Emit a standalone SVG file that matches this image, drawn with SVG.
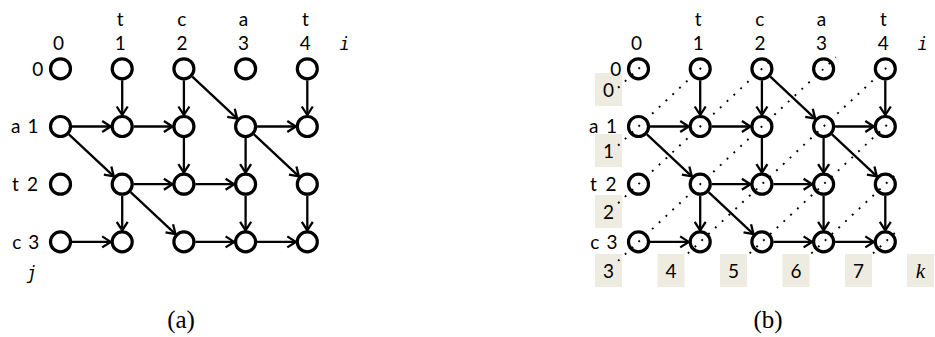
<svg xmlns="http://www.w3.org/2000/svg" width="935" height="337" viewBox="0 0 935 337">
<style>
.n{fill:none;stroke:#000;stroke-width:3.2}
.e{fill:none;stroke:#000;stroke-width:2.3;marker-end:url(#ah)}
.d{fill:none;stroke:#000;stroke-width:1.9;stroke-dasharray:1.9 7.4}
.t{font-family:Lato,"Liberation Sans",sans-serif;font-size:19px;fill:#000;text-anchor:middle}
.v{font-family:"DejaVu Sans Mono","Liberation Mono",monospace;font-style:italic;font-size:17px;fill:#000;text-anchor:middle}
.kk{font-family:"Liberation Serif",serif;font-style:italic;font-size:21px;fill:#000;text-anchor:middle}
.cap{font-family:"Liberation Serif",serif;font-size:25px;fill:#000;text-anchor:middle}
.bx{fill:#eeece1}
</style>
<defs>
<marker id="ah" viewBox="-11 -7 14 14" refX="0" refY="0" markerWidth="14" markerHeight="14" markerUnits="userSpaceOnUse" orient="auto">
<path d="M-8.5,-5.5 L0,0 L-8.5,5.5" fill="none" stroke="#000" stroke-width="2.3"/>
</marker>
</defs>

<!-- Graph (a) labels -->
<g id="labels-a">
<text class="t" x="120.2" y="26">t</text>
<text class="t" x="181.9" y="26">c</text>
<text class="t" x="243.6" y="26">a</text>
<text class="t" x="305.3" y="26">t</text>
<text class="t" x="58.5" y="50">0</text>
<text class="t" x="120.2" y="50">1</text>
<text class="t" x="181.9" y="50">2</text>
<text class="t" x="243.6" y="50">3</text>
<text class="t" x="305.3" y="50">4</text>
<text class="v" x="344.5" y="50">i</text>
<text class="t" x="37.8" y="75.5">0</text>
<text class="t" x="15.7" y="133">a</text>
<text class="t" x="33" y="133">1</text>
<text class="t" x="15.5" y="190.7">t</text>
<text class="t" x="32.5" y="190.7">2</text>
<text class="t" x="16.7" y="248.5">c</text>
<text class="t" x="33.8" y="248.5">3</text>
<text class="v" x="31.7" y="279">j</text>
<text class="cap" x="181" y="328">(a)</text>
</g>

<!-- Graph (a) nodes -->
<g id="a-0-0"><circle class="n" cx="60.5" cy="68.8" r="10"/></g>
<g id="a-1-0"><circle class="n" cx="122.2" cy="68.8" r="10"/></g>
<g id="a-2-0"><circle class="n" cx="183.9" cy="68.8" r="10"/></g>
<g id="a-3-0"><circle class="n" cx="245.6" cy="68.8" r="10"/></g>
<g id="a-4-0"><circle class="n" cx="307.3" cy="68.8" r="10"/></g>
<g id="a-0-1"><circle class="n" cx="60.5" cy="126.5" r="10"/></g>
<g id="a-1-1"><circle class="n" cx="122.2" cy="126.5" r="10"/></g>
<g id="a-2-1"><circle class="n" cx="183.9" cy="126.5" r="10"/></g>
<g id="a-3-1"><circle class="n" cx="245.6" cy="126.5" r="10"/></g>
<g id="a-4-1"><circle class="n" cx="307.3" cy="126.5" r="10"/></g>
<g id="a-0-2"><circle class="n" cx="60.5" cy="184.2" r="10"/></g>
<g id="a-1-2"><circle class="n" cx="122.2" cy="184.2" r="10"/></g>
<g id="a-2-2"><circle class="n" cx="183.9" cy="184.2" r="10"/></g>
<g id="a-3-2"><circle class="n" cx="245.6" cy="184.2" r="10"/></g>
<g id="a-4-2"><circle class="n" cx="307.3" cy="184.2" r="10"/></g>
<g id="a-0-3"><circle class="n" cx="60.5" cy="241.9" r="10"/></g>
<g id="a-1-3"><circle class="n" cx="122.2" cy="241.9" r="10"/></g>
<g id="a-2-3"><circle class="n" cx="183.9" cy="241.9" r="10"/></g>
<g id="a-3-3"><circle class="n" cx="245.6" cy="241.9" r="10"/></g>
<g id="a-4-3"><circle class="n" cx="307.3" cy="241.9" r="10"/></g>

<!-- Graph (a) connectors -->
<g id="edges-a">
<path class="e" d="M122.2,80.3 V115"/>
<path class="e" d="M183.9,80.3 V115"/>
<path class="e" d="M192.3,76.65 L237.2,118.65"/>
<path class="e" d="M307.3,80.3 V115"/>
<path class="e" d="M72,126.5 H110.7"/>
<path class="e" d="M133.7,126.5 H172.4"/>
<path class="e" d="M68.9,134.35 L113.8,176.35"/>
<path class="e" d="M183.9,138 V172.7"/>
<path class="e" d="M257.1,126.5 H295.8"/>
<path class="e" d="M245.6,138 V172.7"/>
<path class="e" d="M254,134.35 L298.9,176.35"/>
<path class="e" d="M133.7,184.2 H172.4"/>
<path class="e" d="M195.4,184.2 H234.1"/>
<path class="e" d="M122.2,195.7 V230.4"/>
<path class="e" d="M130.6,192.05 L175.5,234.05"/>
<path class="e" d="M245.6,195.7 V230.4"/>
<path class="e" d="M307.3,195.7 V230.4"/>
<path class="e" d="M72,241.9 H110.7"/>
<path class="e" d="M195.4,241.9 H234.1"/>
<path class="e" d="M257.1,241.9 H295.8"/>
</g>

<!-- Graph (b) k boxes -->
<g id="k-labels">
<rect class="bx" x="595" y="73" width="27" height="33"/>
<rect class="bx" x="595" y="134" width="27" height="33"/>
<rect class="bx" x="595" y="195" width="27" height="33"/>
<rect class="bx" x="595" y="254" width="27" height="33"/>
<rect class="bx" x="657.5" y="254" width="27" height="33"/>
<rect class="bx" x="720" y="254" width="27" height="33"/>
<rect class="bx" x="782.5" y="254" width="27" height="33"/>
<rect class="bx" x="845" y="254" width="27" height="33"/>
<rect class="bx" x="907" y="254" width="27" height="33"/>
<text class="t" x="608.5" y="97">0</text>
<text class="t" x="608.5" y="158">1</text>
<text class="t" x="608.5" y="219">2</text>
<text class="t" x="608.5" y="278">3</text>
<text class="t" x="671" y="278">4</text>
<text class="t" x="733.5" y="278">5</text>
<text class="t" x="796" y="278">6</text>
<text class="t" x="858.5" y="278">7</text>
<text class="kk" x="920.5" y="278">k</text>
</g>

<!-- Graph (b) labels -->
<g id="labels-b">
<text class="t" x="698.2" y="26">t</text>
<text class="t" x="759.9" y="26">c</text>
<text class="t" x="821.6" y="26">a</text>
<text class="t" x="883.3" y="26">t</text>
<text class="t" x="636.5" y="50">0</text>
<text class="t" x="698.2" y="50">1</text>
<text class="t" x="759.9" y="50">2</text>
<text class="t" x="821.6" y="50">3</text>
<text class="t" x="883.3" y="50">4</text>
<text class="v" x="922.5" y="50">i</text>
<text class="t" x="615.8" y="75.5">0</text>
<text class="t" x="593.7" y="133">a</text>
<text class="t" x="611.5" y="133">1</text>
<text class="t" x="593.5" y="190.7">t</text>
<text class="t" x="611" y="190.7">2</text>
<text class="t" x="594.7" y="248.5">c</text>
<text class="t" x="612" y="248.5">3</text>
<text class="cap" x="768" y="328">(b)</text>
</g>

<!-- Graph (b) nodes -->
<g id="b-0-0"><circle class="n" cx="638.5" cy="68.8" r="10"/></g>
<g id="b-1-0"><circle class="n" cx="700.2" cy="68.8" r="10"/></g>
<g id="b-2-0"><circle class="n" cx="761.9" cy="68.8" r="10"/></g>
<g id="b-3-0"><circle class="n" cx="823.6" cy="68.8" r="10"/></g>
<g id="b-4-0"><circle class="n" cx="885.3" cy="68.8" r="10"/></g>
<g id="b-0-1"><circle class="n" cx="638.5" cy="126.5" r="10"/></g>
<g id="b-1-1"><circle class="n" cx="700.2" cy="126.5" r="10"/></g>
<g id="b-2-1"><circle class="n" cx="761.9" cy="126.5" r="10"/></g>
<g id="b-3-1"><circle class="n" cx="823.6" cy="126.5" r="10"/></g>
<g id="b-4-1"><circle class="n" cx="885.3" cy="126.5" r="10"/></g>
<g id="b-0-2"><circle class="n" cx="638.5" cy="184.2" r="10"/></g>
<g id="b-1-2"><circle class="n" cx="700.2" cy="184.2" r="10"/></g>
<g id="b-2-2"><circle class="n" cx="761.9" cy="184.2" r="10"/></g>
<g id="b-3-2"><circle class="n" cx="823.6" cy="184.2" r="10"/></g>
<g id="b-4-2"><circle class="n" cx="885.3" cy="184.2" r="10"/></g>
<g id="b-0-3"><circle class="n" cx="638.5" cy="241.9" r="10"/></g>
<g id="b-1-3"><circle class="n" cx="700.2" cy="241.9" r="10"/></g>
<g id="b-2-3"><circle class="n" cx="761.9" cy="241.9" r="10"/></g>
<g id="b-3-3"><circle class="n" cx="823.6" cy="241.9" r="10"/></g>
<g id="b-4-3"><circle class="n" cx="885.3" cy="241.9" r="10"/></g>

<!-- Graph (b) connectors -->
<g id="edges-b">
<path class="e" d="M700.2,80.3 V115"/>
<path class="e" d="M761.9,80.3 V115"/>
<path class="e" d="M770.3,76.65 L815.2,118.65"/>
<path class="e" d="M885.3,80.3 V115"/>
<path class="e" d="M650,126.5 H688.7"/>
<path class="e" d="M711.7,126.5 H750.4"/>
<path class="e" d="M646.9,134.35 L691.8,176.35"/>
<path class="e" d="M761.9,138 V172.7"/>
<path class="e" d="M835.1,126.5 H873.8"/>
<path class="e" d="M823.6,138 V172.7"/>
<path class="e" d="M832,134.35 L876.9,176.35"/>
<path class="e" d="M711.7,184.2 H750.4"/>
<path class="e" d="M773.4,184.2 H812.1"/>
<path class="e" d="M700.2,195.7 V230.4"/>
<path class="e" d="M708.6,192.05 L753.5,234.05"/>
<path class="e" d="M823.6,195.7 V230.4"/>
<path class="e" d="M885.3,195.7 V230.4"/>
<path class="e" d="M650,241.9 H688.7"/>
<path class="e" d="M773.4,241.9 H812.1"/>
<path class="e" d="M835.1,241.9 H873.8"/>
</g>

<!-- Graph (b) anti-diagonals -->
<g id="diagonals-b">
<path class="d" d="M618.1,87.8 L650.8,57.3"/>
<path class="d" d="M618.1,145.5 L712.5,57.3"/>
<path class="d" d="M618.1,203.2 L774.2,57.3"/>
<path class="d" d="M618.1,260.9 L835.9,57.3"/>
<path class="d" d="M687.9,253.4 L897.6,57.3"/>
<path class="d" d="M749.6,253.4 L897.6,115"/>
<path class="d" d="M811.3,253.4 L897.6,172.7"/>
<path class="d" d="M873,253.4 L897.6,230.4"/>
</g>
</svg>
